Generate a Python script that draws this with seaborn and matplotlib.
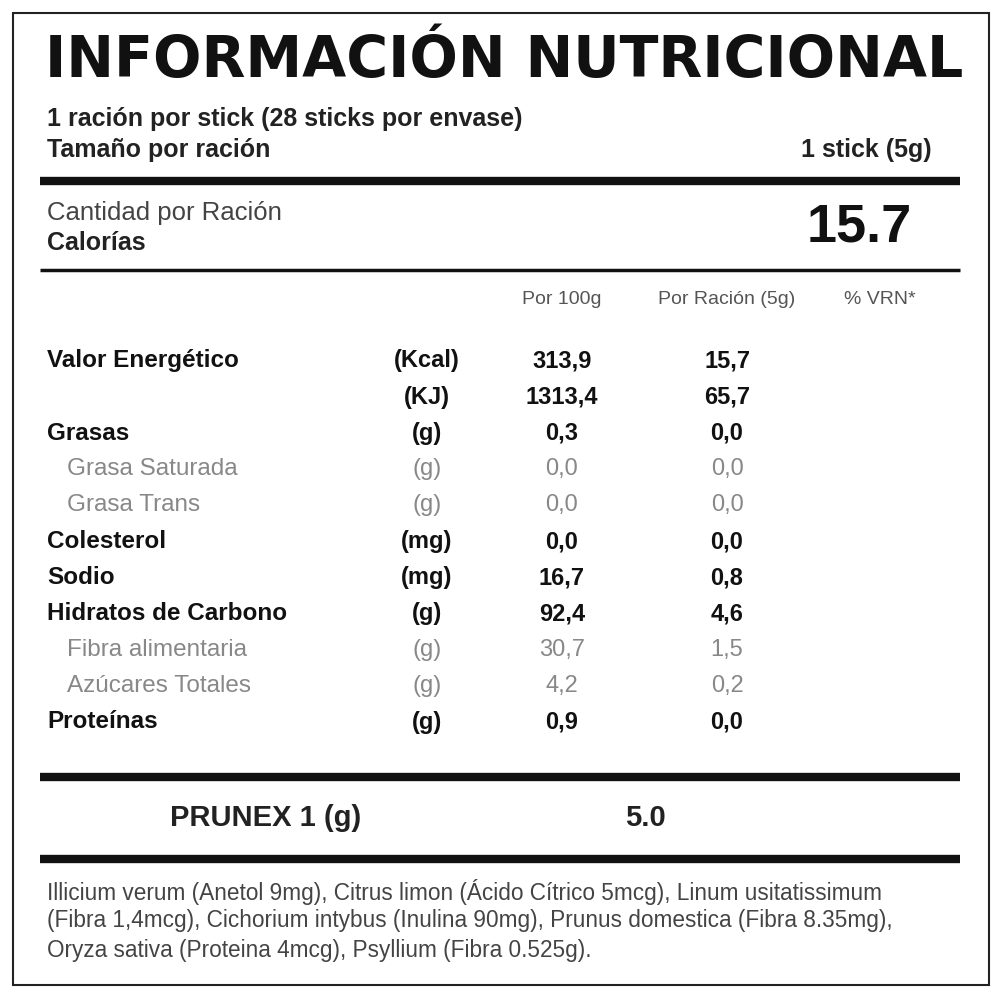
import matplotlib
matplotlib.use("Agg")
import matplotlib.pyplot as plt
import seaborn as sns

sns.set_theme(style="white")
plt.rcParams['font.family'] = ['Liberation Sans', 'DejaVu Sans']

title = "INFORMACIÓN NUTRICIONAL"
serving_line1 = "1 ración por stick (28 sticks por envase)"
serving_label = "Tamaño por ración"
serving_value = "1 stick (5g)"
calories_label1 = "Cantidad por Ración"
calories_label2 = "Calorías"
calories_value = "15.7"
col_headers = ["Por 100g", "Por Ración (5g)", "% VRN*"]
nutrients = ["Valor Energético", "", "Grasas", "Grasa Saturada", "Grasa Trans", "Colesterol",
             "Sodio", "Hidratos de Carbono", "Fibra alimentaria", "Azúcares Totales", "Proteínas"]
units = ["(Kcal)", "(KJ)", "(g)", "(g)", "(g)", "(mg)", "(mg)", "(g)", "(g)", "(g)", "(g)"]
per100 = ["313,9", "1313,4", "0,3", "0,0", "0,0", "0,0", "16,7", "92,4", "30,7", "4,2", "0,9"]
perserv = ["15,7", "65,7", "0,0", "0,0", "0,0", "0,0", "0,8", "4,6", "1,5", "0,2", "0,0"]
is_sub = [False, False, False, True, True, False, False, False, True, True, False]
prunex_label = "PRUNEX 1 (g)"
prunex_value = "5.0"
footer = ["Illicium verum (Anetol 9mg), Citrus limon (Ácido Cítrico 5mcg), Linum usitatissimum",
          "(Fibra 1,4mcg), Cichorium intybus (Inulina 90mg), Prunus domestica (Fibra 8.35mg),",
          "Oryza sativa (Proteina 4mcg), Psyllium (Fibra 0.525g)."]

fig = plt.figure(figsize=(10, 10), dpi=100)
ax = fig.add_axes([0, 0, 1, 1])
ax.set_xlim(0, 1000); ax.set_ylim(1000, 0); ax.axis('off')

ax.add_patch(plt.Rectangle((13, 13), 976, 972, fill=False, lw=1.5, ec='#222'))
t = ax.text(45, 62, title, fontsize=40, fontweight='heavy', va='center', ha='left', color='#111',
            family=['DejaVu Sans'])
fig.canvas.draw()
w = t.get_window_extent().width
t.set_fontsize(40 * 917 / w)

ax.text(47, 119, serving_line1, fontsize=18, fontweight='bold', va='center', color='#222')
ax.text(47, 150, serving_label, fontsize=18, fontweight='bold', va='center', color='#222')
ax.text(932, 150, serving_value, fontsize=18, fontweight='bold', va='center', ha='right', color='#222')
ax.plot([40, 960], [181, 181], color='#111', lw=6, solid_capstyle='butt')
ax.text(47, 213, calories_label1, fontsize=18.5, va='center', color='#444')
ax.text(47, 243, calories_label2, fontsize=18, fontweight='bold', va='center', color='#222')
ax.text(912, 228, calories_value, fontsize=39, fontweight='bold', va='center', ha='right', color='#111')
ax.plot([40, 960], [270, 270], color='#111', lw=2.5, solid_capstyle='butt')

for x, h in zip([562, 727, 880], col_headers):
    ax.text(x, 300, h, fontsize=14, va='center', ha='center', color='#555')

y0, dy = 361, 36.1
for i in range(len(nutrients)):
    y = y0 + i * dy
    if is_sub[i]:
        kw = dict(color='#888', fontweight='light')
        lx = 67
    else:
        kw = dict(color='#111', fontweight='bold')
        lx = 47
    ax.text(lx, y, nutrients[i], fontsize=17.5, va='center', **kw)
    ax.text(427, y, units[i], fontsize=17, va='center', ha='center', **kw)
    ax.text(562, y, per100[i], fontsize=17, va='center', ha='center', **kw)
    ax.text(727, y, perserv[i], fontsize=17, va='center', ha='center', **kw)

ax.plot([40, 960], [777, 777], color='#111', lw=6, solid_capstyle='butt')
ax.text(170, 818, prunex_label, fontsize=21, fontweight='bold', va='center', color='#222')
ax.text(645, 818, prunex_value, fontsize=21, fontweight='bold', va='center', ha='center', color='#222')
ax.plot([40, 960], [859, 859], color='#111', lw=6, solid_capstyle='butt')
for i, line in enumerate(footer):
    ax.text(47, 892 + i * 29, line, fontsize=16.3, va='center', color='#444')

fig.savefig("out.png", dpi=100, facecolor='white')
